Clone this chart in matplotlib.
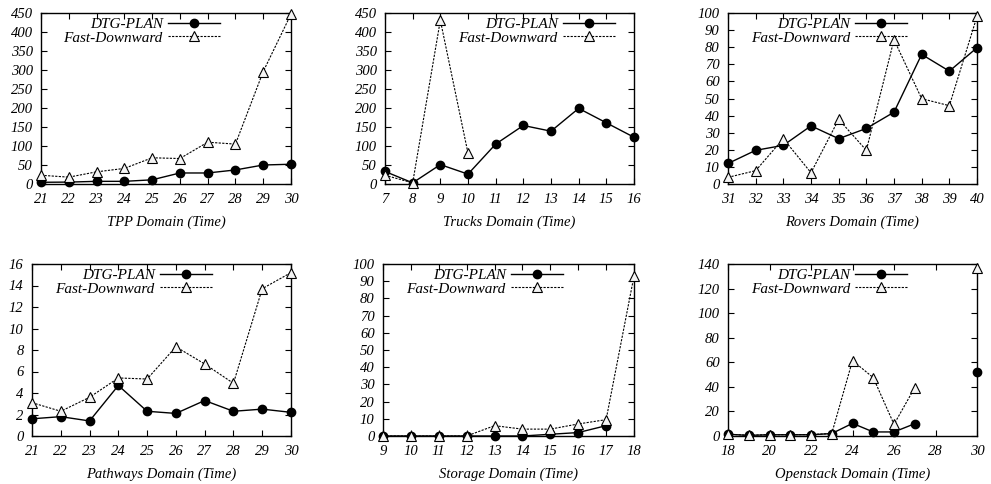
import matplotlib
matplotlib.use("Agg")
import matplotlib.pyplot as plt

plt.rcParams['font.family'] = ['Liberation Serif', 'DejaVu Serif']
plt.rcParams['font.style'] = 'italic'
plt.rcParams['font.size'] = 10.5

# ---- data ----
tpp_x = [21, 22, 23, 24, 25, 26, 27, 28, 29, 30]
tpp_dtg = [4.5, 5, 7, 7, 11, 29, 29, 37, 50, 52]
tpp_fd = [23, 18, 32, 41, 69, 67, 110, 105, 296, 447]

trucks_x = [7, 8, 9, 10, 11, 12, 13, 14, 15, 16]
trucks_dtg = [33, 3, 51, 26, 105, 154, 139, 199, 161, 123]
trucks_fd_x = [7, 8, 9, 10]
trucks_fd = [23, 3, 431, 81]

rovers_x = [31, 32, 33, 34, 35, 36, 37, 38, 39, 40]
rovers_dtg = [12, 19.7, 22.6, 34, 26.5, 32.5, 42, 75.8, 66, 79.7]
rovers_fd = [3.9, 7.8, 26.5, 6.6, 37.8, 19.7, 84.4, 49.9, 45.8, 98]

path_x = [21, 22, 23, 24, 25, 26, 27, 28, 29, 30]
path_dtg = [1.6, 1.8, 1.4, 4.7, 2.3, 2.1, 3.3, 2.3, 2.5, 2.2]
path_fd = [3.1, 2.3, 3.6, 5.4, 5.3, 8.3, 6.7, 4.9, 13.7, 15.2]

stor_dtg_x = [9, 10, 11, 12, 13, 14, 15, 16, 17]
stor_dtg = [0, 0, 0, 0, 0, 0, 1, 2, 6]
stor_fd_x = [9, 10, 11, 12, 13, 14, 15, 16, 17, 18]
stor_fd = [0, 0, 0, 0, 6, 4, 4, 7, 9.5, 93]

open_x = [18, 19, 20, 21, 22, 23, 24, 25, 26, 27]
open_dtg = [1.4, 0.5, 1, 1, 1, 2, 10.3, 3.3, 3.3, 10]
open_fd = [1.5, 0.6, 1.1, 1.1, 1.2, 2, 61.4, 47.5, 9.5, 39.4]
open_last_x = [30]
open_last_dtg = [52.4]
open_last_fd = [136.7]

titles = ["TPP Domain (Time)", "Trucks Domain (Time)", "Rovers Domain (Time)",
          "Pathways Domain (Time)", "Storage Domain (Time)", "Openstack Domain (Time)"]

W, H = 991, 484
fig = plt.figure(figsize=(W / 100, H / 100), dpi=100)

def px_axes(l, r, t, b):
    return fig.add_axes([l / W, 1 - b / H, (r - l) / W, (b - t) / H])

boxes = [(41, 291, 13, 184), (385, 634, 13, 184), (728, 977, 13, 184),
         (32, 291, 264, 436), (383, 634, 264, 436), (728, 977, 264, 436)]
leg_x = [0.716, 0.924, 0.72, 0.695, 0.717, 0.72]

MS = 6
MS_T = 7.5
dtg_style = dict(color='black', lw=1.0, marker='o', ms=MS, mfc='black', mec='black')
fd_style = dict(color='black', lw=0.8, ls=(0, (2, 1.2)), marker='^', ms=MS_T,
                mfc='#f4f4f4', mec='black', mew=0.8)

axes = [px_axes(*b) for b in boxes]

def setup(ax, xlim, xticks, ylim, yticks, title, lx):
    ax.set_xlim(*xlim)
    ax.set_ylim(*ylim)
    ax.set_xticks(xticks)
    ax.set_yticks(yticks)
    ax.tick_params(direction='in', top=True, right=True, length=4, width=0.8,
                   labelsize=10.5)
    ax.tick_params(axis='x', pad=6.5)
    ax.tick_params(axis='y', pad=6)
    for lab in ax.get_xticklabels() + ax.get_yticklabels():
        lab.set_fontstyle('italic')
    for s in ax.spines.values():
        s.set_linewidth(1.0)
    ax.set_xlabel(title, fontsize=10.5, labelpad=7)
    ax.legend(loc='upper right', bbox_to_anchor=(lx, 0.975), frameon=False,
              markerfirst=False, handlelength=3.4, handletextpad=0.35,
              labelspacing=0.0, borderpad=0, borderaxespad=0, fontsize=11)
    ax.patch.set_alpha(0)

# TPP
ax = axes[0]
ax.plot(tpp_x, tpp_dtg, label='DTG-PLAN', **dtg_style, clip_on=False, zorder=3)
ax.plot(tpp_x, tpp_fd, label='Fast-Downward', **fd_style, clip_on=False, zorder=3)
setup(ax, (21, 30), tpp_x, (0, 450), range(0, 451, 50), titles[0], leg_x[0])

# Trucks
ax = axes[1]
ax.plot(trucks_x, trucks_dtg, label='DTG-PLAN', **dtg_style, clip_on=False, zorder=3)
ax.plot(trucks_fd_x, trucks_fd, label='Fast-Downward', **fd_style, clip_on=False, zorder=3)
setup(ax, (7, 16), trucks_x, (0, 450), range(0, 451, 50), titles[1], leg_x[1])

# Rovers
ax = axes[2]
ax.plot(rovers_x, rovers_dtg, label='DTG-PLAN', **dtg_style, clip_on=False, zorder=3)
ax.plot(rovers_x, rovers_fd, label='Fast-Downward', **fd_style, clip_on=False, zorder=3)
setup(ax, (31, 40), rovers_x, (0, 100), range(0, 101, 10), titles[2], leg_x[2])

# Pathways
ax = axes[3]
ax.plot(path_x, path_dtg, label='DTG-PLAN', **dtg_style, clip_on=False, zorder=3)
ax.plot(path_x, path_fd, label='Fast-Downward', **fd_style, clip_on=False, zorder=3)
setup(ax, (21, 30), path_x, (0, 16), range(0, 17, 2), titles[3], leg_x[3])

# Storage
ax = axes[4]
ax.plot(stor_dtg_x, stor_dtg, label='DTG-PLAN', **dtg_style, clip_on=False, zorder=3)
ax.plot(stor_fd_x, stor_fd, label='Fast-Downward', **fd_style, clip_on=False, zorder=3)
setup(ax, (9, 18), stor_fd_x, (0, 100), range(0, 101, 10), titles[4], leg_x[4])

# Openstack
ax = axes[5]
ax.plot(open_x, open_dtg, label='DTG-PLAN', **dtg_style, clip_on=False, zorder=3)
ax.plot(open_x, open_fd, label='Fast-Downward', **fd_style, clip_on=False, zorder=3)
ax.plot(open_last_x, open_last_dtg, ls='none', marker='o', ms=MS, mfc='black',
        mec='black', clip_on=False, zorder=3)
ax.plot(open_last_x, open_last_fd, ls='none', marker='^', ms=MS_T, mfc='#f4f4f4',
        mec='black', mew=0.8, clip_on=False, zorder=3)
setup(ax, (18, 30), range(18, 31, 2), (0, 140), range(0, 141, 20), titles[5], leg_x[5])

fig.savefig('out.png', dpi=100)
